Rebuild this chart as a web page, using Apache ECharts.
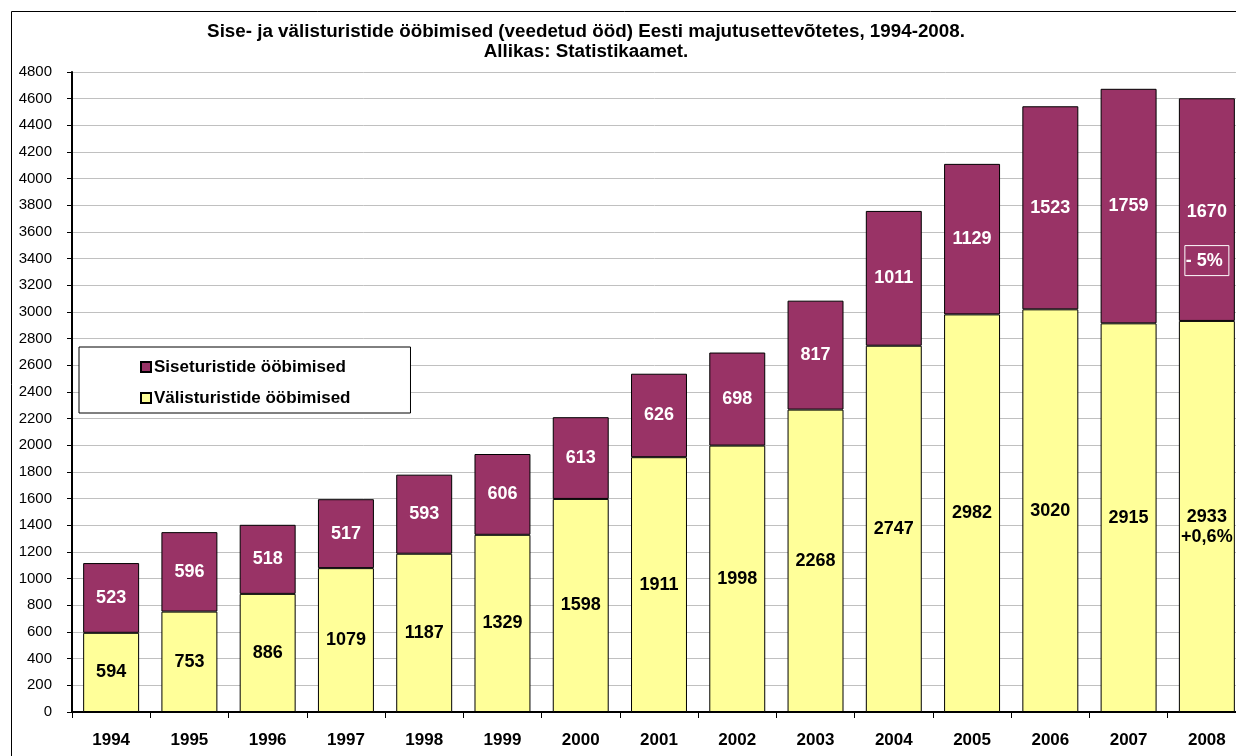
<!DOCTYPE html>
<html>
<head>
<meta charset="utf-8">
<script src="https://cdn.jsdelivr.net/npm/echarts@6/dist/echarts.min.js"></script>
<style>
html,body{margin:0;padding:0;background:#fff;}
#c{width:1236px;height:756px;}
</style>
</head>
<body>
<div id="c"></div>
<script>
const years = ['1994','1995','1996','1997','1998','1999','2000','2001','2002','2003','2004','2005','2006','2007','2008'];
const foreignNights = [594,753,886,1079,1187,1329,1598,1911,1998,2268,2747,2982,3020,2915,2933];
const domesticNights = [523,596,518,517,593,606,613,626,698,817,1011,1129,1523,1759,1670];
const lastForeignChange = '+0,6%';
const lastDomesticChange = '- 5%';
const seriesNames = ['Siseturistide ööbimised','Välisturistide ööbimised'];
const titleText = 'Sise- ja välisturistide ööbimised (veedetud ööd) Eesti majutusettevõtetes, 1994-2008.\nAllikas: Statistikaamet.';

const FONT = 'Liberation Sans, Arial, sans-serif';
const last = years.length - 1;

const yellowData = foreignNights.map((v, i) => i === last ? {
  value: v,
  label: { formatter: v + '\n' + lastForeignChange, offset: [0, 11] }
} : v);
const purpleData = domesticNights.map((v, i) => i === last ? {
  value: v,
  label: {
    formatter: '{v|' + v + '}\n{b|' + lastDomesticChange + '}',
    offset: [0, 41]
  }
} : v);

const chart = echarts.init(document.getElementById('c'), null, {renderer: 'canvas'});
chart.setOption({
  animation: false,
  backgroundColor: '#fff',
  textStyle: { fontFamily: FONT },
  graphic: [{
    type: 'rect', left: 9, top: 9, shape: { width: 1240, height: 760 },
    style: { fill: 'none', stroke: '#000', lineWidth: 1 }, z: -1, silent: true
  }],
  title: {
    text: titleText,
    left: 581, top: 17, textAlign: 'center',
    textStyle: { fontFamily: FONT, fontSize: 18.8, fontWeight: 'bold', color: '#000', lineHeight: 20, align: 'center' }
  },
  legend: {
    orient: 'vertical',
    left: 79, top: 347,
    padding: [11, 60, 6, 61],
    itemWidth: 10, itemHeight: 10, itemGap: 13,
    backgroundColor: '#fff', borderColor: '#000', borderWidth: 1,
    textStyle: { fontFamily: FONT, fontSize: 17, fontWeight: 'bold', color: '#000', lineHeight: 18, padding: [0,0,0,-2] },
    icon: 'rect',
    data: seriesNames
  },
  grid: { left: 72, top: 72, right: -10, bottom: 44, containLabel: false, outerBoundsMode: 'none' },
  xAxis: {
    type: 'category',
    data: years,
    axisLine: { lineStyle: { color: '#000', width: 2 } },
    axisTick: { show: true, alignWithLabel: false, length: 6, lineStyle: { color: '#000', width: 1 } },
    axisLabel: { fontFamily: FONT, fontSize: 17, fontWeight: 'bold', color: '#000', margin: 20 }
  },
  yAxis: {
    type: 'value',
    min: 0, max: 4800, interval: 200,
    axisLine: { show: true, lineStyle: { color: '#000', width: 2 } },
    axisTick: { show: true, length: 5, lineStyle: { color: '#000' } },
    axisLabel: { fontFamily: FONT, fontSize: 15, color: '#000', margin: 20, formatter: v => String(v) },
    splitLine: { lineStyle: { color: '#c0c0c0', width: 1 } }
  },
  series: [
    {
      name: seriesNames[1],
      type: 'bar', stack: 'total',
      barCategoryGap: '28.5%',
      data: yellowData,
      itemStyle: { color: '#FFFF99', borderColor: '#000', borderWidth: 1 },
      label: { show: true, position: 'inside', fontFamily: FONT, fontSize: 18, fontWeight: 'bold', color: '#000', lineHeight: 20 }
    },
    {
      name: seriesNames[0],
      type: 'bar', stack: 'total',
      data: purpleData,
      itemStyle: { color: '#993366', borderColor: '#000', borderWidth: 1 },
      label: {
        show: true, position: 'inside', fontFamily: FONT, fontSize: 18, fontWeight: 'bold', color: '#fff',
        rich: {
          v: { fontFamily: FONT, fontSize: 18, fontWeight: 'bold', color: '#fff', lineHeight: 20, padding: [0, 0, 52, 0] },
          b: { fontFamily: FONT, fontSize: 18, fontWeight: 'bold', color: '#fff', borderColor: '#fff', borderWidth: 1, padding: [6, 6, 6, 1], lineHeight: 26 }
        }
      }
    }
  ]
});
</script>
</body>
</html>
